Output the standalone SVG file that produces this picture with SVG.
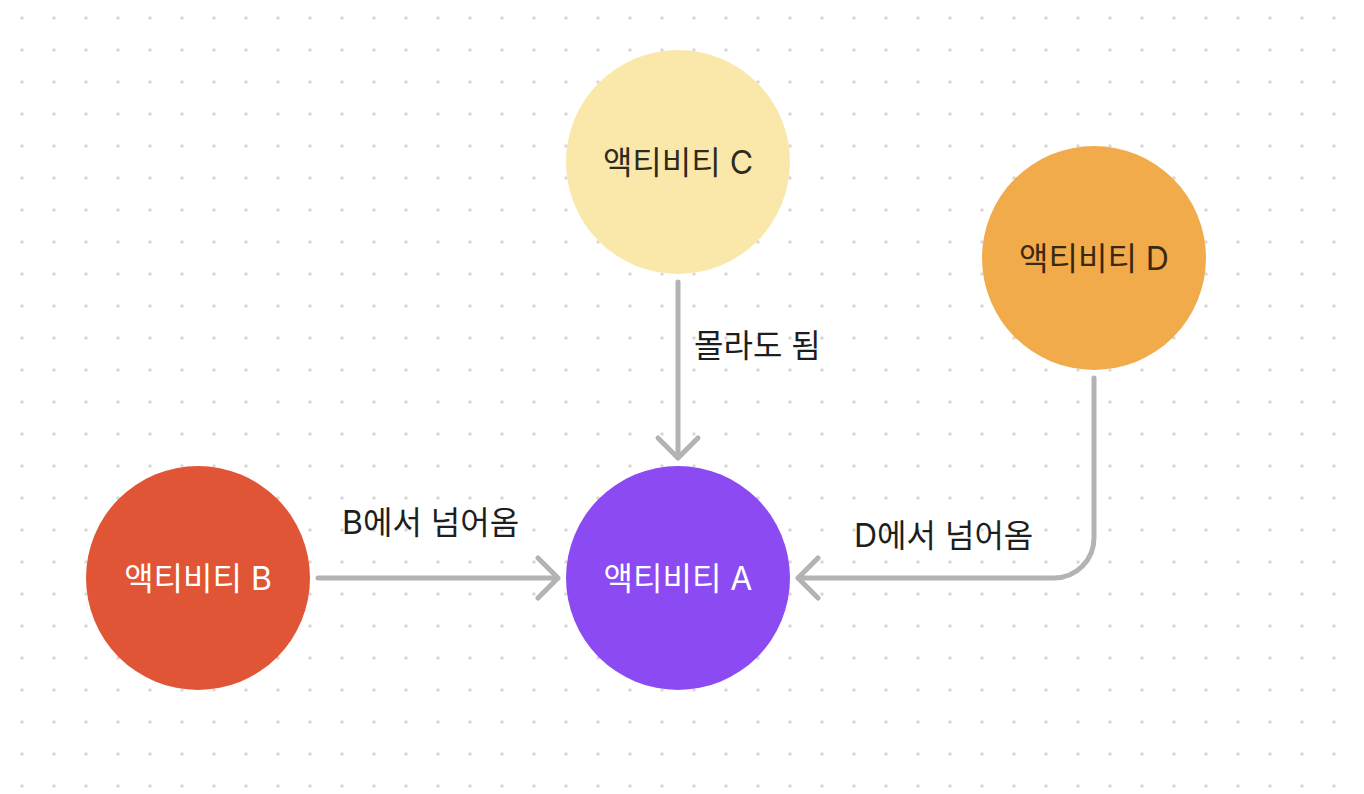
<svg xmlns="http://www.w3.org/2000/svg" width="1364" height="794" viewBox="0 0 1364 794">
<defs>
<pattern id="dots" x="6" y="2" width="32" height="32" patternUnits="userSpaceOnUse">
<circle cx="16" cy="16" r="1.8" fill="#d9d9d9"/>
</pattern>
<style>
.lbl{font-family:"Inter","Noto Sans CJK KR",sans-serif;font-size:32px;text-anchor:middle;dominant-baseline:central}
.edge-lbl{font-family:"Inter","Noto Sans CJK KR",sans-serif;font-size:32px;fill:#1e1e1e;dominant-baseline:central}
.conn{fill:none;stroke:#b3b3b3;stroke-width:5;stroke-linecap:round;stroke-linejoin:round}
</style>
</defs>
<rect width="1364" height="794" fill="#ffffff"/>
<rect width="1364" height="794" fill="url(#dots)"/>
<g id="connectors">
<path class="conn" d="M678 282 V458 M658 438 L678 458 L698 438"/>
<path class="conn" d="M318 578 H558 M538 558 L558 578 L538 598"/>
<path class="conn" d="M1094 378 V538 A40 40 0 0 1 1054 578 H798 M818 558 L798 578 L818 598"/>
<text class="edge-lbl" x="694" y="345">몰라도 됨</text>
<text class="edge-lbl" x="342" y="522">B에서 넘어옴</text>
<text class="edge-lbl" x="854" y="535">D에서 넘어옴</text>
</g>
<g id="node-c">
<circle cx="678" cy="162" r="112" fill="#fae8ab"/>
<text class="lbl" x="678" y="162" fill="#2e2a1e">액티비티 C</text>
</g>
<g id="node-d">
<circle cx="1094" cy="258" r="112" fill="#f2ab4a"/>
<text class="lbl" x="1094" y="258" fill="#3a2810">액티비티 D</text>
</g>
<g id="node-b">
<circle cx="198" cy="578" r="112" fill="#e05535"/>
<text class="lbl" x="198" y="578" fill="#ffffff">액티비티 B</text>
</g>
<g id="node-a">
<circle cx="678" cy="578" r="112" fill="#8b4af2"/>
<text class="lbl" x="678" y="578" fill="#ffffff">액티비티 A</text>
</g>
</svg>
